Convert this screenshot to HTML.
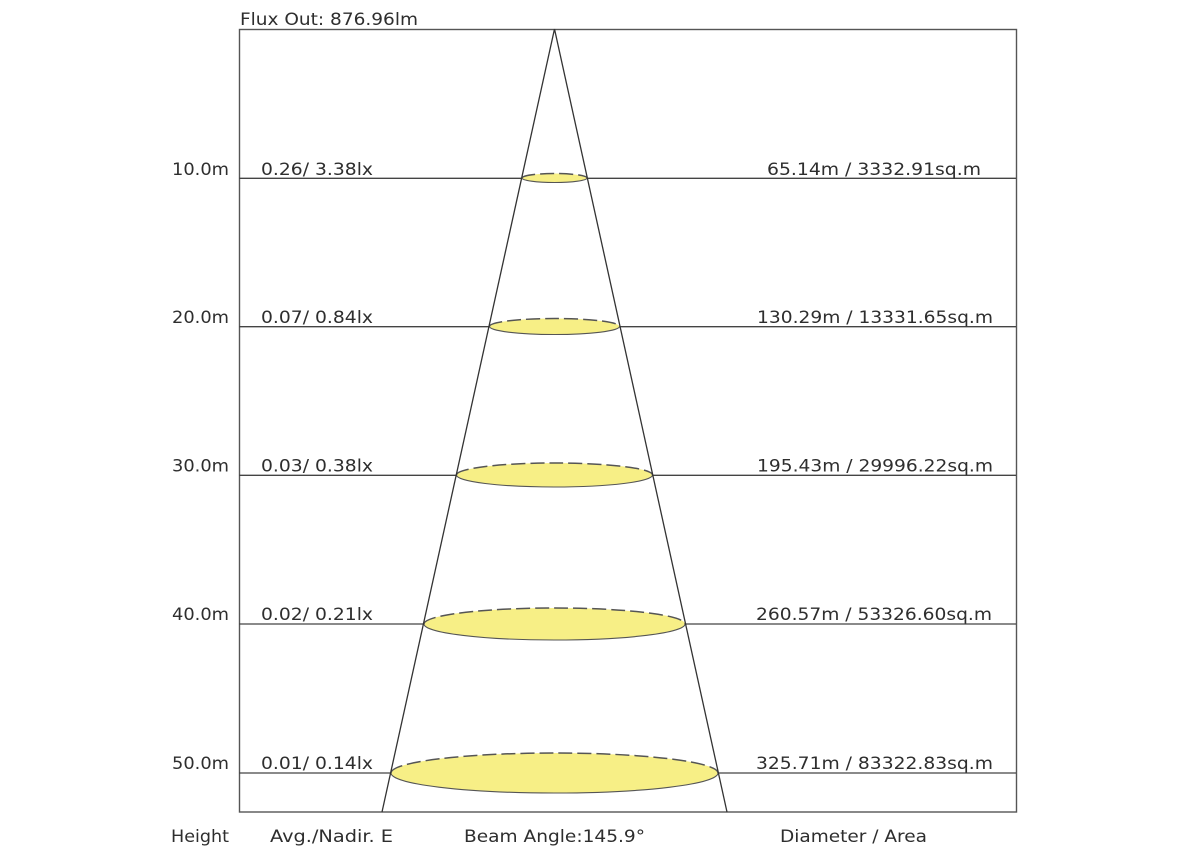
<!DOCTYPE html>
<html>
<head>
<meta charset="utf-8">
<style>
html,body{margin:0;padding:0;background:#fff;}
svg{display:block;}
text{font-family:"DejaVu Sans","Liberation Sans",sans-serif;font-size:16.5px;fill:#2e2e2e;}
</style>
</head>
<body>
<svg width="1200" height="849" viewBox="0 0 1200 849" xmlns="http://www.w3.org/2000/svg">
  <rect x="0" y="0" width="1200" height="849" fill="#fff"/>
  <!-- frame -->
  <rect x="239.5" y="29.5" width="777" height="782.5" fill="none" stroke="#555" stroke-width="1.4"/>

  <!-- horizontal lines -->
  <g stroke="#444" stroke-width="1.3">
    <line x1="239" y1="178.3" x2="1016" y2="178.3"/>
    <line x1="239" y1="326.7" x2="1016" y2="326.7"/>
    <line x1="239" y1="475.3" x2="1016" y2="475.3"/>
    <line x1="239" y1="624" x2="1016" y2="624"/>
    <line x1="239" y1="773" x2="1016" y2="773"/>
  </g>

  <!-- ellipses -->
  <g fill="#f7ef86" stroke="none">
    <ellipse cx="554.5" cy="178" rx="32.5" ry="4.5"/>
    <ellipse cx="554.5" cy="326.5" rx="65" ry="8"/>
    <ellipse cx="554.5" cy="475" rx="98" ry="12"/>
    <ellipse cx="554.5" cy="624" rx="130.5" ry="16"/>
    <ellipse cx="554.5" cy="773" rx="163.5" ry="20"/>
  </g>
  <!-- bottom solid arcs -->
  <g fill="none" stroke="#555" stroke-width="1.1">
    <path d="M522 178 A32.5 4.5 0 0 0 587 178"/>
    <path d="M489.5 326.5 A65 8 0 0 0 619.5 326.5"/>
    <path d="M456.5 475 A98 12 0 0 0 652.5 475"/>
    <path d="M424 624 A130.5 16 0 0 0 685 624"/>
    <path d="M391 773 A163.5 20 0 0 0 718 773"/>
  </g>
  <!-- top dashed arcs -->
  <g fill="none" stroke="#555" stroke-width="1.5" stroke-dasharray="14 5">
    <path d="M522 178 A32.5 4.5 0 0 1 587 178"/>
    <path d="M489.5 326.5 A65 8 0 0 1 619.5 326.5"/>
    <path d="M456.5 475 A98 12 0 0 1 652.5 475"/>
    <path d="M424 624 A130.5 16 0 0 1 685 624"/>
    <path d="M391 773 A163.5 20 0 0 1 718 773"/>
  </g>

  <!-- cone -->
  <g stroke="#333" stroke-width="1.3">
    <line x1="554.5" y1="29" x2="382" y2="812"/>
    <line x1="554.5" y1="29" x2="727" y2="812"/>
  </g>

  <!-- texts -->
  <text x="240" y="25" textLength="178" lengthAdjust="spacingAndGlyphs">Flux Out: 876.96lm</text>

  <text x="172" y="175" textLength="57" lengthAdjust="spacingAndGlyphs">10.0m</text>
  <text x="172" y="323" textLength="57" lengthAdjust="spacingAndGlyphs">20.0m</text>
  <text x="172" y="471.5" textLength="57" lengthAdjust="spacingAndGlyphs">30.0m</text>
  <text x="172" y="620" textLength="57" lengthAdjust="spacingAndGlyphs">40.0m</text>
  <text x="172" y="769" textLength="57" lengthAdjust="spacingAndGlyphs">50.0m</text>

  <text x="261" y="175" textLength="112" lengthAdjust="spacingAndGlyphs">0.26/ 3.38lx</text>
  <text x="261" y="323" textLength="112" lengthAdjust="spacingAndGlyphs">0.07/ 0.84lx</text>
  <text x="261" y="471.5" textLength="112" lengthAdjust="spacingAndGlyphs">0.03/ 0.38lx</text>
  <text x="261" y="620" textLength="112" lengthAdjust="spacingAndGlyphs">0.02/ 0.21lx</text>
  <text x="261" y="769" textLength="112" lengthAdjust="spacingAndGlyphs">0.01/ 0.14lx</text>

  <text x="767" y="175" textLength="214" lengthAdjust="spacingAndGlyphs">65.14m / 3332.91sq.m</text>
  <text x="757" y="323" textLength="236" lengthAdjust="spacingAndGlyphs">130.29m / 13331.65sq.m</text>
  <text x="757" y="471.5" textLength="236" lengthAdjust="spacingAndGlyphs">195.43m / 29996.22sq.m</text>
  <text x="756" y="620" textLength="236" lengthAdjust="spacingAndGlyphs">260.57m / 53326.60sq.m</text>
  <text x="756" y="769" textLength="237" lengthAdjust="spacingAndGlyphs">325.71m / 83322.83sq.m</text>

  <text x="171" y="842" textLength="58" lengthAdjust="spacingAndGlyphs">Height</text>
  <text x="270" y="842" textLength="123" lengthAdjust="spacingAndGlyphs">Avg./Nadir. E</text>
  <text x="464" y="842" textLength="181" lengthAdjust="spacingAndGlyphs">Beam Angle:145.9°</text>
  <text x="780" y="842" textLength="147" lengthAdjust="spacingAndGlyphs">Diameter / Area</text>
</svg>
</body>
</html>
